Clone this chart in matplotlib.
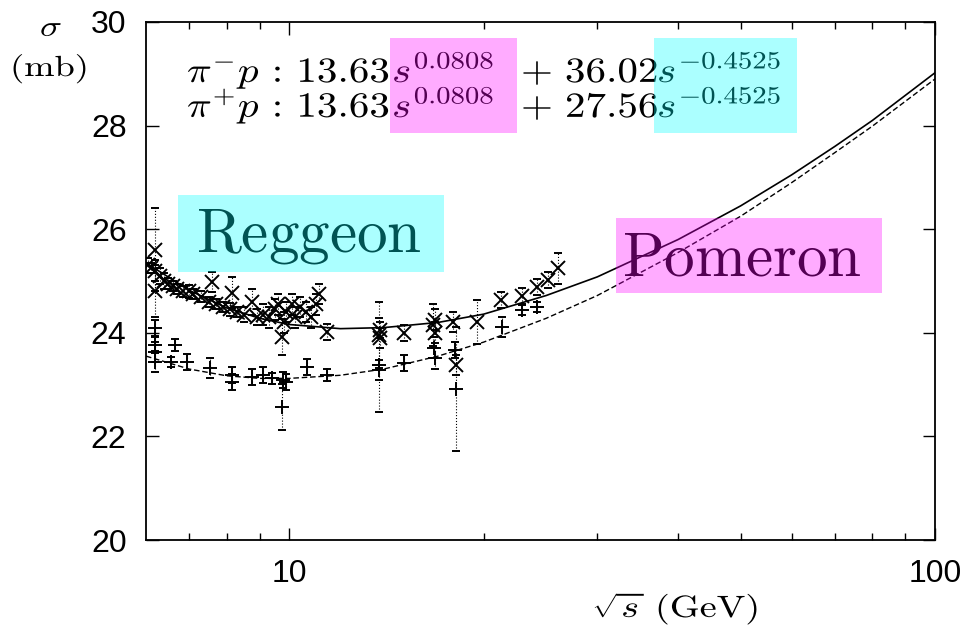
import numpy as np
import matplotlib
matplotlib.use("Agg")
import matplotlib.pyplot as plt
from matplotlib.patches import Rectangle, PathPatch
from matplotlib.textpath import TextPath
from matplotlib.font_manager import FontProperties
from matplotlib.transforms import Affine2D

plt.rcParams['mathtext.fontset'] = 'cm'
plt.rcParams['font.family'] = ['Liberation Sans', 'DejaVu Sans']

W, H = 971, 628

# fit curves (sqrt(s) in GeV, sigma in mb)
curve_x = [6, 7, 8, 9, 10, 12, 14, 17, 20, 25, 30, 40, 50, 60, 70, 80, 100]
curve_minus = [25.35, 24.82, 24.48, 24.28, 24.16, 24.08, 24.1, 24.2, 24.36, 24.72,
               25.08, 25.8, 26.45, 27.05, 27.6, 28.1, 29.02]
curve_plus = [23.55, 23.3, 23.17, 23.12, 23.12, 23.18, 23.3, 23.55, 23.82, 24.28,
              24.72, 25.55, 26.25, 26.9, 27.48, 27.99, 28.9]

# pi- p data (x markers)
pim_x = [6.05, 6.1, 6.2, 6.2, 6.2, 6.3, 6.4, 6.5, 6.6, 6.7, 6.85, 7.0, 7.1, 7.3, 7.5,
         7.6, 7.7, 7.9, 8.1, 8.16, 8.3, 8.5, 8.77, 8.9, 9.1, 9.3, 9.5, 9.6, 9.75, 9.8,
         9.9, 10.1, 10.2, 10.4, 10.6, 10.8, 11.0, 11.1, 11.45, 13.78, 13.8, 13.8, 15.06,
         16.7, 16.8, 16.8, 17.95, 18.1, 19.54, 21.3, 22.96, 24.2, 25.2, 26.07]
pim_y = [25.3, 25.25, 25.6, 24.8, 25.2, 25.1, 25.0, 24.95, 24.9, 24.85, 24.8, 24.8, 24.75,
         24.7, 24.6, 24.98, 24.55, 24.5, 24.45, 24.77, 24.4, 24.35, 24.6, 24.3, 24.35, 24.3,
         24.45, 24.55, 23.92, 24.2, 24.4, 24.55, 24.3, 24.5, 24.4, 24.3, 24.55, 24.75, 24.02,
         23.96, 24.05, 23.9, 24.0, 24.15, 24.0, 24.25, 24.21, 23.38, 24.21, 24.63, 24.71,
         24.88, 25.02, 25.25]
pim_err = [0.15, 0.1, 0.8, 0.5, 0.2, 0.15, 0.15, 0.1, 0.1, 0.1, 0.1, 0.12, 0.1, 0.1, 0.1,
           0.2, 0.1, 0.1, 0.12, 0.3, 0.1, 0.15, 0.25, 0.15, 0.2, 0.2, 0.2, 0.2, 0.35, 0.2,
           0.2, 0.2, 0.2, 0.2, 0.2, 0.2, 0.2, 0.2, 0.15, 0.63, 0.15, 0.2, 0.15,
           0.4, 0.2, 0.2, 0.2, 0.2, 0.42, 0.15, 0.15, 0.15, 0.15, 0.3]

# pi+ p data (+ markers)
pip_x = [6.2, 6.2, 6.2, 6.2, 6.55, 6.66, 6.95, 7.55, 8.16, 8.16, 8.77, 9.12, 9.4, 9.75,
         9.79, 9.9, 10.66, 11.45, 13.78, 13.78, 15.06, 16.77, 16.8, 18.05, 18.1, 21.38,
         22.96, 24.2]
pip_y = [24.09, 23.76, 23.63, 23.44, 23.44, 23.76, 23.44, 23.32, 23.19, 23.05, 23.15, 23.19,
         23.12, 22.57, 23.09, 23.05, 23.34, 23.19, 23.38, 23.28, 23.42, 23.71, 23.51, 23.67,
         22.92, 24.11, 24.44, 24.5]
pip_err = [0.15, 0.15, 0.2, 0.2, 0.1, 0.12, 0.15, 0.2, 0.15, 0.15, 0.15, 0.15, 0.1, 0.45,
           0.15, 0.15, 0.15, 0.12, 0.9, 0.2, 0.15, 0.2, 0.2, 0.15, 1.2, 0.2, 0.1, 0.1]

fig = plt.figure(figsize=(W / 100, H / 100), dpi=100)
ax = fig.add_axes([146 / W, 1 - 540 / H, (935 - 146) / W, (540 - 22) / H])

for xs, ys, es, mk in [(pim_x, pim_y, pim_err, 'x'), (pip_x, pip_y, pip_err, '+')]:
    eb = ax.errorbar(xs, ys, yerr=es, fmt=mk, color='black', ms=10, mew=1.4,
                     elinewidth=0.8, capsize=3, capthick=0.6, zorder=3)
    for lc in eb[2]:
        lc.set_linestyle(':')

ax.plot(curve_x, curve_minus, '-', color='black', lw=1.2, zorder=2)
ax.plot(curve_x, curve_plus, '--', color='black', lw=1.0, dashes=(4, 2), zorder=2)

ax.set_xscale('log')
ax.set_xlim(6, 100)
ax.set_ylim(20, 30)
ax.set_yticks([20, 22, 24, 26, 28, 30])
ax.set_xticks([10, 100])
ax.set_xticklabels(['10', '100'])
ax.set_xticks([7, 8, 9, 20, 30, 40, 50, 60, 70, 80, 90], minor=True)
ax.xaxis.set_minor_formatter(matplotlib.ticker.NullFormatter())
ax.tick_params(which='both', direction='in', top=True, right=True, labelsize=23, width=1)
ax.tick_params(which='major', length=9, pad=14)
ax.tick_params(which='minor', length=5)
for sp in ax.spines.values():
    sp.set_linewidth(1.3)

cm_prop = FontProperties(family='DejaVu Serif', math_fontfamily='cm')


def stext(x, y, s, size, sx=1.0):
    # mathtext drawn as a path so it can be stretched sideways like the original;
    # x, y are the left end of the baseline in pixels from the top-left corner
    tp = TextPath((0, 0), s, size=size * 100 / 72, prop=cm_prop)
    fig.add_artist(PathPatch(tp, transform=Affine2D().scale(sx, 1).translate(x, H - y),
                             facecolor='black', edgecolor='none', lw=0))


stext(40, 36, r'$\sigma$', 21, 1.25)
stext(10, 76, r'$(\mathrm{mb})$', 21, 1.25)
stext(592, 617, r'$\sqrt{s}\ (\mathrm{GeV})$', 22, 1.25)

fs, sx = 25.5, 1.16
for yb, sign, coef in [(82, '-', '36.02'), (117, '+', '27.56')]:
    stext(187, yb, r'$\pi^{%s}p\,:\,13.63$' % sign, fs, sx)
    stext(392, yb, r'$s^{0.0808}$', fs, sx)
    stext(521, yb, r'$+\ %s$' % coef, fs, sx)
    stext(657, yb, r'$s^{-0.4525}$', fs, sx)

fig.text(196 / W, 1 - 252 / H, r'$\mathrm{Reggeon}$', fontsize=44, va='baseline')
fig.text(622 / W, 1 - 276 / H, r'$\mathrm{Pomeron}$', fontsize=44, va='baseline')

# translucent highlight boxes on top
for (x0, y0, x1, y1, c) in [(390, 38, 517, 133, (1, 0, 1)), (654, 38, 797, 133, (0, 1, 1)),
                            (178, 195, 444, 272, (0, 1, 1)), (616, 218, 882, 293, (1, 0, 1))]:
    fig.patches.append(Rectangle((x0 / W, 1 - y1 / H), (x1 - x0) / W, (y1 - y0) / H,
                                 transform=fig.transFigure, facecolor=c, alpha=0.33,
                                 edgecolor='none', zorder=10))

fig.savefig('out.png', dpi=100)
